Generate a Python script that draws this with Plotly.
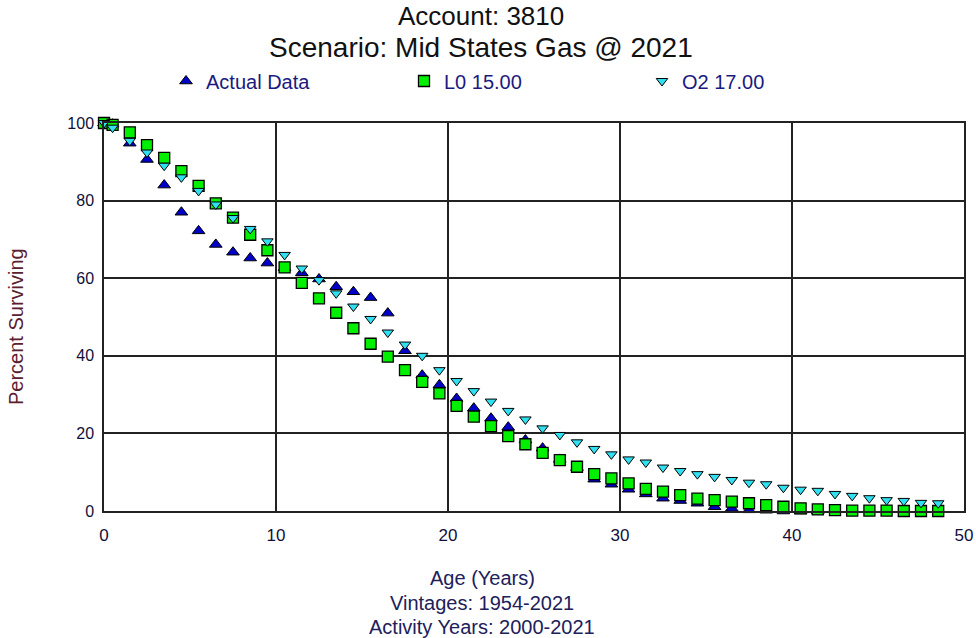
import plotly.graph_objects as go

# ---------------- data ----------------
ages = [0, 0.5, 1.5, 2.5, 3.5, 4.5, 5.5, 6.5, 7.5, 8.5, 9.5,
        10.5, 11.5, 12.5, 13.5, 14.5, 15.5, 16.5, 17.5, 18.5, 19.5,
        20.5, 21.5, 22.5, 23.5, 24.5, 25.5, 26.5, 27.5, 28.5, 29.5,
        30.5, 31.5, 32.5, 33.5, 34.5, 35.5, 36.5, 37.5, 38.5, 39.5,
        40.5, 41.5, 42.5, 43.5, 44.5, 45.5, 46.5, 47.5, 48.5]

actual_data = [100.0, 99.7, 94.8, 90.6, 84.0, 77.0, 72.2, 68.7, 66.7, 65.2, 63.9,
               62.7, 61.4, 59.8, 57.8, 56.5, 55.0, 51.0, 41.3, 35.0, 32.5,
               29.0, 26.5, 23.9, 21.6, 18.3, 16.2, 13.3, 11.2, 8.2, 6.9,
               5.6, 4.4, 3.3, 2.7, 2.0, 1.1, 0.7, 0.3, 0.2, 0.0,
               0.0, 0.0]

l0_15 = [100.0, 99.5, 97.6, 94.3, 91.0, 87.6, 83.8, 79.3, 75.6, 71.2, 67.2,
         62.8, 58.8, 54.8, 51.1, 47.1, 43.1, 39.8, 36.3, 33.3, 30.3,
         27.1, 24.3, 21.9, 19.3, 17.2, 15.0, 13.1, 11.4, 9.5, 8.4,
         7.1, 5.7, 5.0, 4.1, 3.2, 2.8, 2.4, 2.0, 1.5, 1.1,
         0.7, 0.4, 0.2, 0.1, 0.1, 0.1, 0.0, 0.0, 0.0]

o2_17 = [100.0, 98.8, 95.4, 92.4, 89.0, 86.0, 82.5, 79.0, 75.5, 72.7, 69.5,
         66.0, 62.5, 59.5, 56.1, 52.7, 49.5, 46.0, 42.9, 40.0, 36.3,
         33.5, 30.9, 28.2, 25.8, 23.6, 21.3, 19.6, 17.7, 16.0, 14.6,
         13.3, 12.5, 11.2, 10.3, 9.5, 8.8, 8.0, 7.3, 6.9, 6.0,
         5.5, 5.2, 4.4, 3.9, 3.3, 2.8, 2.6, 2.1, 2.0]

x_ticks = [0, 10, 20, 30, 40, 50]
y_ticks = [0, 20, 40, 60, 80, 100]

title_lines = ["Account: 3810", "Scenario: Mid States Gas @ 2021"]
x_title_lines = ["Age (Years)", "Vintages: 1954-2021", "Activity Years: 2000-2021"]
y_title = "Percent Surviving"

FONT = "Liberation Sans, Arial, sans-serif"

# body margin is removed in the page (post_script), figure fills the window
W, H = 976, 638
PLOT_L, PLOT_R, PLOT_T, PLOT_B = 104, 964, 123, 511   # page pixels
pl, pr = PLOT_L, W - PLOT_R
pt, pb = PLOT_T, H - PLOT_B
pw, ph = PLOT_R - PLOT_L, PLOT_B - PLOT_T


def px_to_paper(xp, yp):
    return (xp - PLOT_L) / pw, (PLOT_B - yp) / ph


fig = go.Figure()

fig.add_trace(go.Scatter(
    x=ages[:len(actual_data)], y=actual_data, mode="markers", name="Actual Data",
    marker=dict(symbol="triangle-up", size=11, color="#0000C8",
                line=dict(color="black", width=1)),
    cliponaxis=False))
fig.add_trace(go.Scatter(
    x=ages, y=l0_15, mode="markers", name="L0 15.00",
    marker=dict(symbol="square", size=11, color="#00F000",
                line=dict(color="black", width=1.3)),
    cliponaxis=False))
fig.add_trace(go.Scatter(
    x=ages, y=o2_17, mode="markers", name="O2 17.00",
    marker=dict(symbol="triangle-down", size=10, color="#30E0F0",
                line=dict(color="black", width=1)),
    cliponaxis=False))

lx, ly = px_to_paper(166, 81)

fig.update_layout(
    width=W, height=H,
    margin=dict(l=pl, r=pr, t=pt, b=pb, autoexpand=False),
    paper_bgcolor="white", plot_bgcolor="white",
    font=dict(family=FONT, size=16, color="#10103a"),
    showlegend=True,
    legend=dict(orientation="h", x=lx, xanchor="left", y=ly, yanchor="middle",
                entrywidth=193, entrywidthmode="pixels",
                font=dict(size=20, color="#1a1a80"), itemwidth=30,
                bgcolor="rgba(0,0,0,0)"),
    xaxis=dict(range=[0, 50], tickvals=x_ticks, showgrid=True, gridcolor="#222222",
               gridwidth=1.5, zeroline=False, showline=True, linecolor="#222222",
               linewidth=1.5, mirror=True, ticks="", tickfont=dict(size=17),
               ticklabelstandoff=8, fixedrange=True, automargin=False),
    yaxis=dict(range=[0, 100], tickvals=y_ticks, showgrid=True, gridcolor="#222222",
               gridwidth=1.5, zeroline=False, showline=True, linecolor="#222222",
               linewidth=1.5, mirror=True, ticks="", ticklabelstandoff=5,
               tickfont=dict(size=16), fixedrange=True, automargin=False),
)

anns = []
for txt, yp, fs in zip(title_lines, [16, 47], [26, 28]):
    xx, yy = px_to_paper(481, yp)
    anns.append(dict(text=txt, x=xx, y=yy, xref="paper", yref="paper",
                     showarrow=False, font=dict(size=fs, color="#111111"),
                     xanchor="center", yanchor="middle"))
for txt, yp in zip(x_title_lines, [578, 603, 627]):
    xx, yy = px_to_paper(482, yp)
    anns.append(dict(text=txt, x=xx, y=yy, xref="paper", yref="paper",
                     showarrow=False, font=dict(size=20, color="#20205a"),
                     xanchor="center", yanchor="middle"))
xx, yy = px_to_paper(16, 327)
anns.append(dict(text=y_title, x=xx, y=yy, xref="paper", yref="paper",
                 showarrow=False, textangle=-90, font=dict(size=20, color="#5a2030"),
                 xanchor="center", yanchor="middle"))
fig.update_layout(annotations=anns)

fig.write_html("out.html",
               config={"displayModeBar": False},
               post_script="document.body.style.margin='0';"
                           "document.body.style.overflow='hidden';")
